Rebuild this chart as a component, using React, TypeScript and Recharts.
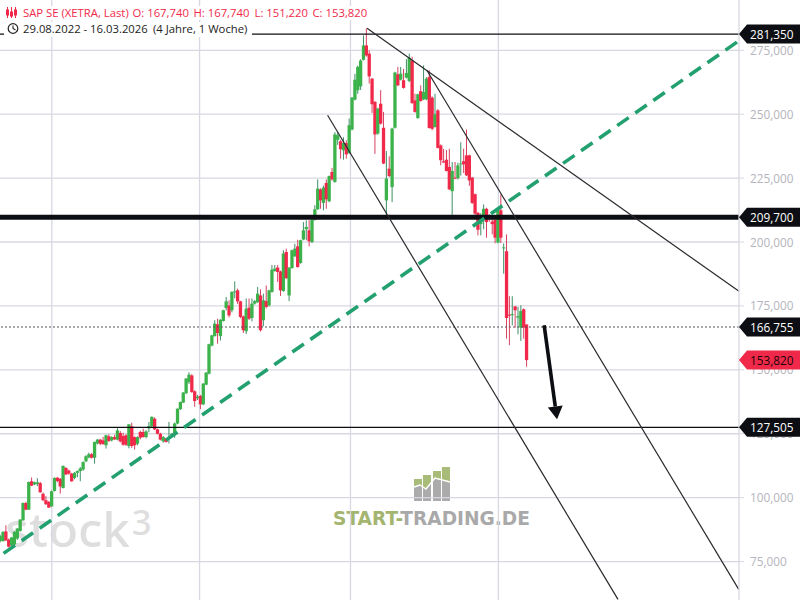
import React from "react";
import { ComposedChart, Bar, XAxis, YAxis, CartesianGrid, ReferenceLine } from "recharts";

// weekly candles 29.08.2022 - 16.03.2026 : [open, high, low, close]
const candlesA = [
[83.0,85.5,82.5,85.0],[83.0,86.8,82.8,86.6],[86.8,89.2,83.0,83.3],[83.6,84.0,80.5,80.8],[81.4,84.6,80.9,84.4],
[81.7,86.9,81.2,86.6],[84.0,88.1,83.5,87.9],[87.0,91.6,86.7,91.4],[91.1,98.1,91.0,97.9],[97.9,98.4,95.1,95.3],
[95.3,106.3,95.2,106.1],[106.4,107.9,104.5,104.7],[105.2,106.3,104.9,106.0],[105.3,107.6,104.5,106.0],[105.7,106.2,101.9,102.1],
[101.5,102.0,98.6,99.0],[99.0,100.6,97.2,97.4],[98.3,98.7,96.0,96.1],[96.6,102.7,96.4,102.5],[102.6,107.9,102.4,107.7],
[107.8,108.1,106.0,106.5],[107.4,107.7,101.6,104.4],[103.8,112.6,103.6,112.4],[111.6,112.0,108.8,109.1],[110.6,111.0,109.0,109.4],
[109.4,109.7,106.2,106.4],[107.7,110.0,107.2,109.7],[109.7,110.6,108.0,110.4],[110.4,112.0,106.4,111.4],[111.0,114.2,110.5,113.9],
[114.2,116.6,113.9,116.2],[115.7,117.6,115.4,117.0],[117.0,117.5,115.3,115.6],[115.6,121.9,113.3,121.8],[121.2,122.9,120.8,122.7],
[122.7,123.0,120.5,121.1],[122.4,123.8,120.8,120.9],[120.5,124.6,119.2,124.4],[124.0,124.8,121.8,122.2],[122.4,124.0,122.0,123.7],
[123.7,124.6,122.6,122.8],[122.7,127.2,122.4,126.3],[125.3,126.0,121.6,122.0],[124.1,125.4,120.3,120.7],[124.4,124.8,120.2,120.7],
[120.2,128.7,119.3,128.7],[127.9,129.3,119.5,120.2],[123.7,124.0,118.8,120.5],[121.1,124.0,120.5,123.7],[125.7,126.2,122.8,123.5],
];
const candlesB = [
[125.7,127.0,123.5,123.7],[123.7,126.4,123.2,125.9],[127.1,129.6,125.6,128.0],[127.9,131.8,127.4,131.6],[130.9,131.4,126.5,126.7],
[126.7,127.0,124.8,125.0],[125.0,125.4,122.4,122.7],[122.0,124.1,121.5,123.7],[123.1,123.4,121.5,121.8],[123.5,129.6,121.2,123.7],
[124.4,125.3,123.9,125.0],[125.0,129.4,123.4,129.0],[129.0,134.9,128.7,134.8],[134.6,137.6,134.3,137.4],[137.2,141.3,137.0,141.1],
[140.9,146.7,140.5,146.6],[145.2,149.0,144.5,148.1],[147.8,148.3,141.0,141.3],[141.6,142.0,135.5,137.8],[138.9,140.2,138.2,139.5],
[139.8,140.2,134.6,136.5],[136.5,144.8,136.2,144.6],[144.2,149.1,144.0,148.9],[148.5,160.2,148.2,160.0],[159.5,163.7,159.2,163.5],
[163.2,169.4,163.0,168.1],[167.8,170.0,160.2,164.4],[163.2,169.8,161.5,169.6],[169.1,173.5,168.9,173.3],[174.2,178.5,173.2,176.8],
[175.2,177.2,170.5,171.3],[173.3,180.7,172.5,180.5],[180.4,184.6,178.0,180.7],[181.1,181.8,175.8,176.8],[176.8,177.0,170.2,170.7],
[170.9,171.2,164.4,165.5],[165.1,177.9,164.0,173.9],[174.3,177.9,169.5,170.0],[170.3,177.9,169.0,175.9],[175.9,177.3,175.5,176.9],
[176.5,182.4,176.2,179.8],[179.1,181.5,165.0,165.5],[169.4,179.8,167.0,177.2],[176.9,183.0,174.0,174.6],[175.2,181.3,174.8,181.1],
[180.5,191.0,180.2,189.2],[188.7,191.0,188.4,189.6],[190.0,191.0,184.4,188.3],[188.5,188.8,178.9,181.1],[180.8,196.8,180.6,195.5],
];
const candlesC = [
[196.1,197.4,185.5,185.9],[179.1,190.2,176.9,190.0],[189.8,197.0,189.6,196.8],[194.4,199.3,194.2,197.4],[198.3,200.9,190.0,190.2],
[191.8,200.9,191.5,200.7],[201.0,207.8,200.7,204.6],[205.0,208.5,200.7,205.9],[204.6,208.5,198.3,200.3],[200.0,208.9,199.6,208.7],
[208.7,214.4,208.4,212.8],[212.8,224.5,212.6,220.9],[220.6,221.0,213.0,216.3],[215.3,222.0,212.4,221.3],[223.1,224.5,213.0,216.7],
[215.9,226.0,215.6,225.8],[227.4,229.0,224.0,224.5],[223.5,243.0,223.2,242.1],[240.0,243.0,238.0,241.8],[239.4,240.0,232.6,236.3],
[235.9,241.0,232.2,238.7],[238.7,239.8,232.6,234.3],[234.8,248.3,234.5,245.7],[244.0,256.7,243.7,256.5],[255.7,265.8,255.4,263.5],
[259.4,269.0,258.0,268.5],[260.9,271.5,259.5,271.0],[271.3,280.8,271.0,276.9],[276.9,283.6,272.5,273.0],[273.7,275.0,262.0,264.8],
[263.9,264.2,250.5,253.9],[254.8,255.2,234.5,242.1],[242.4,252.5,242.0,252.2],[254.1,259.4,246.0,246.3],[244.7,250.9,230.5,230.7],
[216.3,235.6,210.0,224.8],[228.7,233.5,225.4,225.8],[221.5,244.7,215.6,244.4],[244.7,266.6,244.4,266.3],[265.6,268.5,261.0,261.3],
];
const candlesD = [
[263.5,268.5,263.2,265.9],[263.3,267.7,260.0,260.3],[264.3,271.5,264.0,266.1],[263.0,273.7,262.5,272.1],[271.0,272.5,254.0,254.4],
[255.4,258.0,250.6,250.9],[248.5,258.0,248.2,257.8],[259.0,261.3,254.9,255.2],[255.8,269.1,255.5,258.7],[255.8,264.5,255.5,263.9],
[264.6,267.2,244.4,244.6],[256.5,257.0,243.7,244.3],[245.0,258.0,244.8,250.0],[251.5,252.0,236.6,236.8],[237.8,238.2,230.0,232.0],
[231.6,236.4,231.0,231.1],[232.2,236.0,227.6,227.8],[229.4,236.5,220.4,220.6],[219.9,231.3,210.4,227.8],[225.2,231.3,224.6,224.8],
[225.0,231.0,224.4,230.0],[230.4,239.0,226.0,230.7],[231.6,236.5,227.0,230.4],[233.9,244.0,225.8,226.1],[233.9,234.2,222.0,224.1],
[225.2,225.5,214.9,215.3],[218.7,219.0,210.6,211.1],[211.4,211.8,202.6,204.8],[207.0,211.3,202.6,209.0],[208.5,214.7,205.0,213.0],
[213.0,213.4,201.7,207.8],[210.0,210.8,208.0,209.2],[208.0,209.0,203.0,207.0],[208.7,209.5,199.5,201.7],[199.8,212.6,199.5,212.4],
[212.4,218.5,199.6,201.7],[197.7,199.4,187.6,197.9],[196.4,203.0,162.2,170.3],[171.6,178.8,159.6,171.2],[171.5,178.8,167.4,171.8],
[174.8,175.0,166.5,173.3],[170.4,174.6,163.9,171.0],[166.5,175.3,161.3,173.0],[173.7,174.0,162.2,166.5],[167.74,167.74,151.22,153.82],
];

const yTicks = [75, 100, 125, 150, 175, 200, 225, 250, 275];
const xTicks = [18, 69.65, 122.4, 174.1];
const xLabels = ["Jan '23", "Jan '24", "Jan '25", "Jan '26"];

const levelBlack = [281.35, 209.7, 166.755, 127.505];
const lastPrice = 153.82;

const greenTrend = [{ x: 1.15, y: 78.2 }, { x: 257.5, y: 278.2 }];
const channelA = [{ x: 114.4, y: 249.6 }, { x: 215.9, y: 60.2 }];
const channelB = [{ x: 128.2, y: 283.6 }, { x: 258.2, y: 180.7 }];
const channelC = [{ x: 149.1, y: 267.2 }, { x: 258.1, y: 64.1 }];
const arrowLine = [{ x: 190.1, y: 167.4 }, { x: 194.6, y: 130.65 }];

const yDomain = [59.96, 294.68];

const rows = [...candlesA, ...candlesB, ...candlesC, ...candlesD].map(([o, h, l, c], i) => ({
  i, o, h, l, c, range: [l, h],
}));

const fmt = (v: number) => v.toFixed(3).replace(".", ",");
const FONT = "'Open Sans', sans-serif";
const GRID = "#d8d8e2";

function Candle(props: any) {
  const { x, y, width, height, payload } = props;
  const { o, h, l, c } = payload;
  const k = height / (h - l);
  const up = c >= o;
  const top = y + (h - Math.max(o, c)) * k;
  const bodyH = Math.max(1, Math.abs(o - c) * k);
  const cx = x + width / 2;
  return (
    <g>
      <line x1={cx} x2={cx} y1={y} y2={y + height} stroke={up ? "#3c8f66" : "#d8405f"} strokeWidth={1} />
      <rect x={cx - 1.65} y={top} width={3.3} height={bodyH} fill={up ? "#3cb24a" : "#f0294a"} />
    </g>
  );
}

function YTick(props: any) {
  const { y, payload } = props;
  const v = payload.value;
  const isLast = v === lastPrice;
  const isFlag = levelBlack.includes(v) || isLast;
  if (!isFlag) {
    return (
      <text x={750} y={y + 4.5} fontFamily={FONT} fontSize={11.8} fill="#b4b4bc">{fmt(v)}</text>
    );
  }
  return (
    <g>
      <polygon
        points={`739,${y} 747,${y - 9.5} 800,${y - 9.5} 800,${y + 9.5} 747,${y + 9.5}`}
        fill={isLast ? "#f0294a" : "#0c0e13"}
      />
      <text x={750} y={y + 4.5} fontFamily={FONT} fontSize={11.8} fill={isLast ? "#1a0508" : "#ffffff"}>{fmt(v)}</text>
    </g>
  );
}

function XTick(props: any) {
  const { x, y, index } = props;
  return (
    <g>
      <line x1={x} x2={x} y1={y - 2} y2={y} stroke="#b4b4bc" />
      <text x={x} y={y - 6} textAnchor="middle" fontFamily={FONT} fontSize={12} fill="#b4b4bc">{xLabels[index]}</text>
    </g>
  );
}

function ArrowShape(props: any) {
  const { x1, y1, x2, y2 } = props;
  const dx = x2 - x1, dy = y2 - y1;
  const len = Math.hypot(dx, dy);
  const ux = dx / len, uy = dy / len;
  const bx = x2 - ux * 13, by = y2 - uy * 13;
  return (
    <g>
      <line x1={x1} y1={y1} x2={bx} y2={by} stroke="#0c0e13" strokeWidth={3.6} />
      <polygon
        points={`${x2},${y2} ${bx - uy * 7.5},${by + ux * 7.5} ${bx + uy * 7.5},${by - ux * 7.5}`}
        fill="#0c0e13"
      />
    </g>
  );
}

const hdr: React.CSSProperties = {
  position: "absolute", fontFamily: FONT, fontSize: 11.3, lineHeight: "14px", whiteSpace: "nowrap", background: "#fff",
};

const gridPoints = yTicks.map((v) => ((yDomain[1] - v) / (yDomain[1] - yDomain[0])) * 600);

export default function App() {
  return (
    <div style={{ position: "absolute", left: 0, top: 0, width: 800, height: 600, overflow: "hidden", background: "#fff" }}>
      <svg width={800} height={600} style={{ position: "absolute", left: 0, top: 0 }}>
        <text x={5} y={547} fontFamily="'Noto Sans', sans-serif" fontWeight={500} fontSize={48} fill="#dedede" textLength={125} lengthAdjust="spacingAndGlyphs">stock</text>
        <text x={132} y={535} fontFamily="'Noto Sans', sans-serif" fontWeight={500} fontSize={34} fill="#dedede">3</text>
        <g>
          <rect x={414} y={479} width={36} height={22} fill="#a8bb78" />
          <rect x={423} y={475} width={8} height={8} fill="#a8bb78" />
          <rect x={433} y={471} width={8} height={10} fill="#a8bb78" />
          <rect x={442} y={467} width={8} height={14} fill="#a8bb78" />
          <polygon points="414,487 420,485 426,489 435,478 450,482 450,501 414,501" fill="#ababab" />
          <polyline points="414,487 420,485 426,489 435,478 450,482" fill="none" stroke="#fff" strokeWidth={1.5} />
          <rect x={422} y={467} width={1} height={34} fill="#fff" />
          <rect x={431} y={467} width={2} height={34} fill="#fff" />
          <rect x={441} y={467} width={1} height={34} fill="#fff" />
        </g>
        <text x={333} y={525} fontFamily="'DejaVu Sans', sans-serif" fontWeight="bold" fontSize={20} textLength={197} lengthAdjust="spacingAndGlyphs">
          <tspan fill="#a4b56f">START-</tspan><tspan fill="#a9a9a9">TRADING.DE</tspan>
        </text>
      </svg>
      <div style={{ position: "absolute", left: 0, top: 0 }}>
        <ComposedChart width={800} height={600} data={rows} margin={{ top: 0, right: 0, bottom: 0, left: 0 }}>
          <CartesianGrid stroke={GRID} strokeWidth={1.3} horizontalPoints={gridPoints} verticalValues={xTicks} />
          <XAxis
            dataKey="i" type="number" domain={[-0.1, 258.2]} allowDataOverflow ticks={xTicks} interval={0}
            height={0} axisLine={false} tickLine={false} tick={<XTick />}
          />
          <YAxis
            orientation="right" type="number" domain={yDomain} allowDataOverflow width={61}
            ticks={[...yTicks, ...levelBlack, lastPrice]} interval={0}
            axisLine={{ stroke: GRID, strokeWidth: 1.3 }} tickLine={{ stroke: GRID }} tickSize={5} tick={<YTick />}
          />
          <Bar dataKey="range" barSize={3} isAnimationActive={false} shape={<Candle />} />
          <ReferenceLine y={levelBlack[0]} stroke="#0c0e13" strokeWidth={1.2} />
          <ReferenceLine y={levelBlack[1]} stroke="#0c0e13" strokeWidth={5} />
          <ReferenceLine y={levelBlack[2]} stroke="#555" strokeWidth={1} strokeDasharray="2 2" />
          <ReferenceLine y={levelBlack[3]} stroke="#0c0e13" strokeWidth={1.2} />
          <ReferenceLine segment={channelA} stroke="#2a2a2e" strokeWidth={1.2} />
          <ReferenceLine segment={channelB} stroke="#2a2a2e" strokeWidth={1.2} />
          <ReferenceLine segment={channelC} stroke="#2a2a2e" strokeWidth={1.2} />
          <ReferenceLine segment={greenTrend} stroke="#22a06f" strokeWidth={3.6} strokeDasharray="14 8" />
          <ReferenceLine segment={arrowLine} shape={<ArrowShape />} />
        </ComposedChart>
      </div>
      <div style={{ position: "absolute", left: 4, top: 22, width: 248, height: 15, background: "#fff" }} />
      <svg width={20} height={40} style={{ position: "absolute", left: 0, top: 0 }}>
        <g stroke="#f0294a" fill="none">
          <line x1={7.5} y1={7} x2={7.5} y2={18} /><rect x={6.5} y={10} width={2} height={5} />
          <line x1={11.5} y1={7} x2={11.5} y2={18} /><rect x={10.5} y={12} width={2} height={4} />
          <line x1={15.5} y1={7} x2={15.5} y2={18} /><rect x={14.5} y={10} width={2} height={5} />
        </g>
        <circle cx={13} cy={28.5} r={4.8} fill="none" stroke="#222" strokeWidth={1.2} />
        <polyline points="13,25.5 13,28.5 15.5,30" fill="none" stroke="#222" strokeWidth={1.1} />
      </svg>
      <span style={{ ...hdr, left: 23, top: 6, color: "#f0294a" }}>SAP SE (XETRA, Last)</span>
      <span style={{ ...hdr, left: 132.5, top: 6, color: "#f0294a" }}>O: 167,740</span>
      <span style={{ ...hdr, left: 193.5, top: 6, color: "#f0294a" }}>H: 167,740</span>
      <span style={{ ...hdr, left: 254.5, top: 6, color: "#f0294a" }}>L: 151,220</span>
      <span style={{ ...hdr, left: 312.5, top: 6, color: "#f0294a" }}>C: 153,820</span>
      <span style={{ ...hdr, left: 23, top: 22, color: "#222" }}>29.08.2022 - 16.03.2026</span>
      <span style={{ ...hdr, left: 153, top: 22, color: "#222" }}>(4 Jahre, 1 Woche)</span>
    </div>
  );
}
